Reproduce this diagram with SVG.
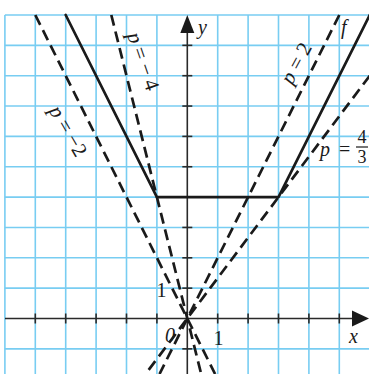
<svg xmlns="http://www.w3.org/2000/svg" width="369" height="374" viewBox="0 0 369 374">
<style>
.grid line{stroke:#78cdf2;stroke-width:1.6}
.axis{stroke:#2a2a2a;stroke-width:1.6;fill:none}
.tick{stroke:#2a2a2a;stroke-width:1.6}
.f{stroke:#1a1a1a;stroke-width:2.7;fill:none;stroke-linecap:round;stroke-linejoin:round}
.d{stroke:#1a1a1a;stroke-width:2.7;fill:none;stroke-dasharray:11 6}
.t{font-family:"Liberation Serif","Times New Roman",serif;font-size:20px;fill:#1a1a1a}
.r{font-size:21px}
.i{font-style:italic}
</style>
<rect width="369" height="374" fill="#ffffff"/>
<g class="grid">
<line x1="4.9" y1="15" x2="4.9" y2="374"/>
<line x1="35.3" y1="15" x2="35.3" y2="374"/>
<line x1="65.7" y1="15" x2="65.7" y2="374"/>
<line x1="96.1" y1="15" x2="96.1" y2="374"/>
<line x1="126.5" y1="15" x2="126.5" y2="374"/>
<line x1="156.9" y1="15" x2="156.9" y2="374"/>
<line x1="217.7" y1="15" x2="217.7" y2="374"/>
<line x1="248.1" y1="15" x2="248.1" y2="374"/>
<line x1="278.5" y1="15" x2="278.5" y2="374"/>
<line x1="308.9" y1="15" x2="308.9" y2="374"/>
<line x1="339.3" y1="15" x2="339.3" y2="374"/>
<line x1="4.9" y1="15" x2="369" y2="15"/>
<line x1="4.9" y1="45.35" x2="369" y2="45.35"/>
<line x1="4.9" y1="75.7" x2="369" y2="75.7"/>
<line x1="4.9" y1="106.05" x2="369" y2="106.05"/>
<line x1="4.9" y1="136.4" x2="369" y2="136.4"/>
<line x1="4.9" y1="166.75" x2="369" y2="166.75"/>
<line x1="4.9" y1="197.1" x2="369" y2="197.1"/>
<line x1="4.9" y1="227.45" x2="369" y2="227.45"/>
<line x1="4.9" y1="257.8" x2="369" y2="257.8"/>
<line x1="4.9" y1="288.15" x2="369" y2="288.15"/>
<line x1="4.9" y1="348.85" x2="369" y2="348.85"/>
</g>
<g id="axes">
<line class="axis" x1="5" y1="318.5" x2="355" y2="318.5"/>
<polygon points="369,318.5 352,310.5 352,326.5" fill="#1a1a1a"/>
<line class="axis" x1="187.3" y1="374" x2="187.3" y2="30"/>
<polygon points="187.3,15 180.3,33 194.3,33" fill="#1a1a1a"/>
<g class="tick">
<line x1="35.3" y1="313.5" x2="35.3" y2="323.5"/>
<line x1="65.7" y1="313.5" x2="65.7" y2="323.5"/>
<line x1="96.1" y1="313.5" x2="96.1" y2="323.5"/>
<line x1="126.5" y1="313.5" x2="126.5" y2="323.5"/>
<line x1="156.9" y1="313.5" x2="156.9" y2="323.5"/>
<line x1="217.7" y1="313.5" x2="217.7" y2="323.5"/>
<line x1="248.1" y1="313.5" x2="248.1" y2="323.5"/>
<line x1="278.5" y1="313.5" x2="278.5" y2="323.5"/>
<line x1="308.9" y1="313.5" x2="308.9" y2="323.5"/>
<line x1="339.3" y1="313.5" x2="339.3" y2="323.5"/>
<line x1="182.3" y1="348.85" x2="192.3" y2="348.85"/>
<line x1="182.3" y1="288.15" x2="192.3" y2="288.15"/>
<line x1="182.3" y1="257.8" x2="192.3" y2="257.8"/>
<line x1="182.3" y1="227.45" x2="192.3" y2="227.45"/>
<line x1="182.3" y1="197.1" x2="192.3" y2="197.1"/>
<line x1="182.3" y1="166.75" x2="192.3" y2="166.75"/>
<line x1="182.3" y1="136.4" x2="192.3" y2="136.4"/>
<line x1="182.3" y1="106.05" x2="192.3" y2="106.05"/>
<line x1="182.3" y1="75.7" x2="192.3" y2="75.7"/>
<line x1="182.3" y1="45.35" x2="192.3" y2="45.35"/>
</g>
<text class="t i" x="198" y="34">y</text>
<text class="t i" x="349" y="343">x</text>
<text class="t" x="218.5" y="345" text-anchor="middle">1</text>
<text class="t" x="161.5" y="297" text-anchor="middle">1</text>
<text class="t i" x="170" y="342" text-anchor="middle">0</text>
</g>
<g id="connectors">
<line id="p-4" class="d" x1="111.3" y1="15" x2="201.2" y2="374"/>
<line id="p-2" class="d" x1="35.3" y1="15" x2="215.1" y2="374"/>
<line id="p2" class="d" x1="339.3" y1="15" x2="159.5" y2="374"/>
<line id="p43" class="d" x1="369.7" y1="75.7" x2="145.6" y2="374"/>
</g>
<g id="f">
<polyline class="f" points="65.7,15 156.9,197.1 278.5,197.1 369.7,15"/>
<text class="t i" x="341" y="34">f</text>
</g>
<g id="label-p-4">
<text class="t r" transform="translate(142.5,61.5) rotate(71)" y="6" text-anchor="middle" xml:space="preserve"><tspan class="i">p</tspan> = − 4</text>
</g>
<g id="label-p-2">
<text class="t r" transform="translate(67.5,131.5) rotate(60)" y="6" text-anchor="middle" xml:space="preserve"><tspan class="i">p</tspan> = −2</text>
</g>
<g id="label-p2">
<text class="t r" transform="translate(297,63.5) rotate(-62)" y="6" text-anchor="middle" xml:space="preserve"><tspan class="i">p</tspan> = 2</text>
</g>
<g id="label-p43">
<text class="t i" x="320" y="155.5">p</text>
<text class="t" x="339" y="155.5">=</text>
<text class="t" x="362" y="143" text-anchor="middle" style="font-size:18px">4</text>
<line x1="356" y1="147" x2="368" y2="147" stroke="#1a1a1a" stroke-width="1.2"/>
<text class="t" x="362" y="163" text-anchor="middle" style="font-size:18px">3</text>
</g>
</svg>
